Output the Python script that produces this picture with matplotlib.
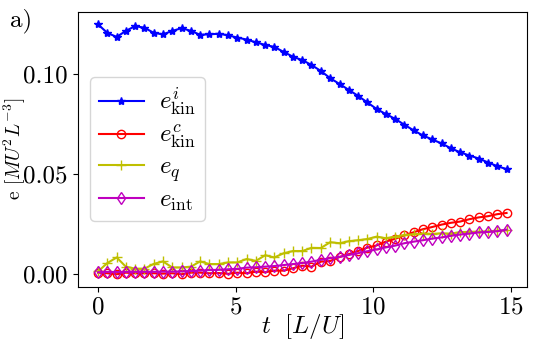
import matplotlib
matplotlib.use("Agg")
import matplotlib.pyplot as plt

plt.rcParams['font.family'] = 'serif'
plt.rcParams['font.serif'] = ['cmr10']
plt.rcParams['mathtext.fontset'] = 'cm'
plt.rcParams['axes.formatter.use_mathtext'] = True
plt.rcParams['font.size'] = 18

# time [L/U]
t = [0.00, 0.34, 0.68, 1.01, 1.35, 1.69, 2.03, 2.36, 2.70, 3.04,
     3.38, 3.71, 4.05, 4.39, 4.73, 5.06, 5.40, 5.74, 6.08, 6.41,
     6.75, 7.09, 7.43, 7.76, 8.10, 8.44, 8.78, 9.11, 9.45, 9.79,
     10.13, 10.46, 10.80, 11.14, 11.48, 11.81, 12.15, 12.49, 12.83, 13.16,
     13.50, 13.84, 14.18, 14.51, 14.85]

e_kin_i = [0.1248, 0.1205, 0.1185, 0.1215, 0.1239, 0.1231, 0.1205, 0.1198, 0.1215, 0.1229,
           0.1215, 0.1196, 0.1198, 0.1201, 0.1193, 0.1182, 0.1172, 0.1158, 0.1145, 0.1135,
           0.1110, 0.1086, 0.1069, 0.1045, 0.1015, 0.0979, 0.0950, 0.0921, 0.0891, 0.0858,
           0.0825, 0.0800, 0.0776, 0.0746, 0.0718, 0.0693, 0.0673, 0.0653, 0.0629, 0.0609,
           0.0593, 0.0578, 0.0558, 0.0540, 0.0525]

e_kin_c = [0.0008, 0.0005, 0.0000, 0.0008, 0.0005, 0.0005, 0.0005, 0.0003, 0.0005, 0.0000,
           0.0008, 0.0008, 0.0005, 0.0006, 0.0002, 0.0008, 0.0005, 0.0013, 0.0010, 0.0018,
           0.0018, 0.0030, 0.0043, 0.0038, 0.0063, 0.0066, 0.0086, 0.0100, 0.0116, 0.0133,
           0.0144, 0.0163, 0.0177, 0.0194, 0.0210, 0.0225, 0.0236, 0.0248, 0.0257, 0.0263,
           0.0275, 0.0284, 0.0290, 0.0300, 0.0306]

e_q = [0.0014, 0.0056, 0.0084, 0.0038, 0.0028, 0.0028, 0.0052, 0.0064, 0.0034, 0.0034,
       0.0038, 0.0064, 0.0051, 0.0051, 0.0059, 0.0059, 0.0076, 0.0067, 0.0095, 0.0084,
       0.0105, 0.0116, 0.0116, 0.0132, 0.0131, 0.0160, 0.0155, 0.0165, 0.0170, 0.0176,
       0.0188, 0.0180, 0.0188, 0.0196, 0.0200, 0.0203, 0.0202, 0.0204, 0.0203, 0.0210,
       0.0212, 0.0213, 0.0214, 0.0218, 0.0219]

e_int = [0.0010, 0.0012, 0.0011, 0.0012, 0.0012, 0.0012, 0.0012, 0.0013, 0.0013, 0.0014,
         0.0016, 0.0018, 0.0021, 0.0022, 0.0025, 0.0027, 0.0033, 0.0035, 0.0038, 0.0041,
         0.0046, 0.0051, 0.0056, 0.0063, 0.0072, 0.0080, 0.0087, 0.0096, 0.0105, 0.0115,
         0.0124, 0.0134, 0.0143, 0.0155, 0.0163, 0.0170, 0.0178, 0.0184, 0.0192, 0.0198,
         0.0203, 0.0209, 0.0211, 0.0215, 0.0223]

fig = plt.figure(figsize=(5.35, 3.48), dpi=100)
ax = fig.add_axes([0.145, 0.176, 0.84, 0.79])

ax.plot(t, e_kin_i, '-*', color='b', lw=1.5, ms=6, label=r'$e^i_{\rm kin}$')
ax.plot(t, e_kin_c, '-o', color='r', lw=1.5, ms=6, mfc='none', label=r'$e^c_{\rm kin}$')
ax.plot(t, e_q, '-+', color='y', lw=1.5, ms=7, label=r'$e_q$')
ax.plot(t, e_int, '-d', color='m', lw=1.5, ms=6, mfc='none', label=r'$e_{\rm int}$')

ax.set_xticks([0, 5, 10, 15])
ax.set_yticks([0.0, 0.05, 0.10])
ax.set_yticklabels(['0.00', '0.05', '0.10'])
ax.set_xlabel(r'$t\ \ [L/U]$', labelpad=-5)
ax.set_ylabel(r'e $[MU^2L^{-3}]$', fontsize=14)
ax.yaxis.set_label_coords(-0.11, 0.5)

ax.legend(loc='center left', numpoints=1, fontsize=18, labelspacing=0.2,
          handlelength=1.8, handletextpad=0.6, borderpad=0.35)

fig.text(0.018, 0.975, 'a)', va='top', ha='left')

fig.savefig('out.png', dpi=100)
